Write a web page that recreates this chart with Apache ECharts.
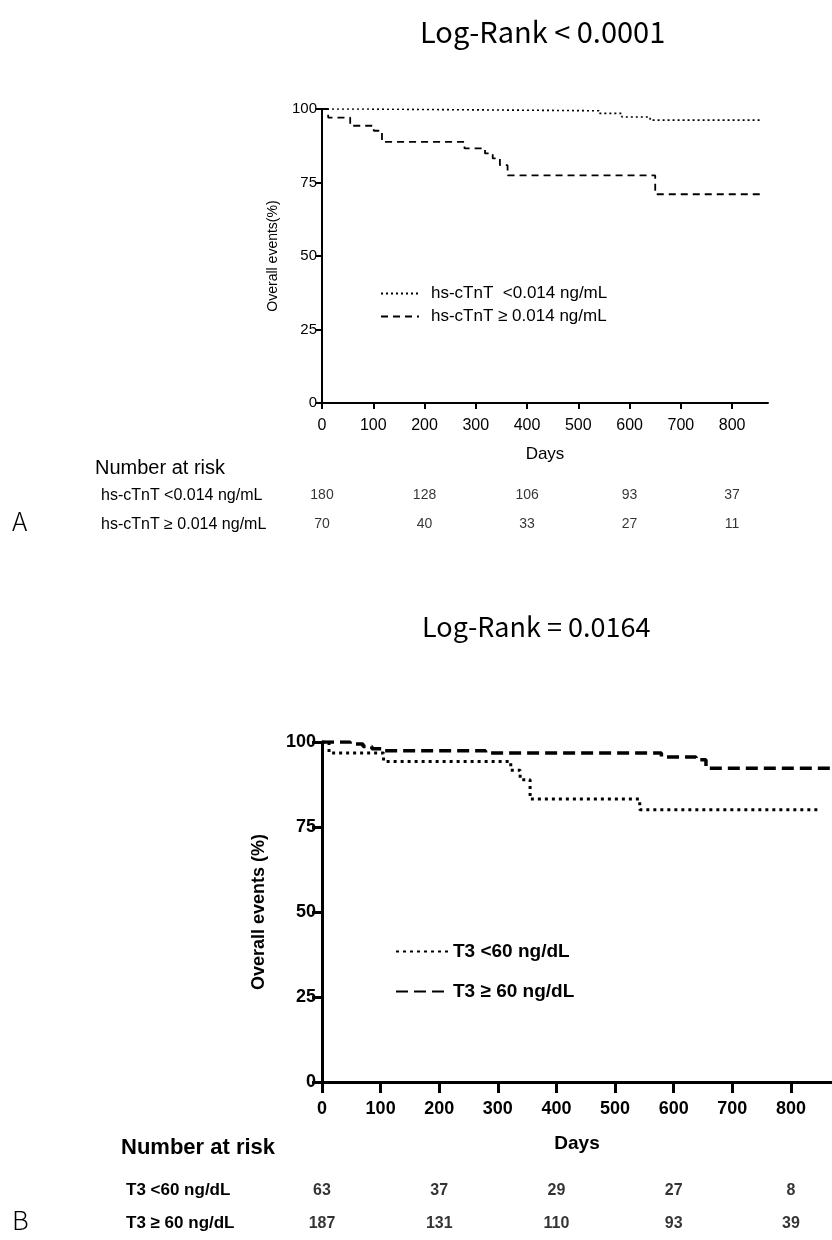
<!DOCTYPE html>
<html>
<head>
<meta charset="utf-8">
<script src="https://cdn.jsdelivr.net/npm/echarts@6/dist/echarts.min.js"></script>
<style>
html,body{margin:0;padding:0;background:#fff;}
#chart{width:832px;height:1240px;}
</style>
</head>
<body>
<div id="chart"></div>
<script>
// ---- Panel A data (hs-cTnT) ----
const aLowName = 'hs-cTnT  <0.014 ng/mL';
const aHighName = 'hs-cTnT \u2265 0.014 ng/mL';
const aLowDays = [0, 75, 540, 585, 640, 858];
const aLowSurv = [100, 99.4, 98.5, 97.3, 96.2, 96.2];
const aHighDays = [0, 12, 55, 101, 117, 278, 318, 333, 347, 362, 650, 860];
const aHighSurv = [100, 97.1, 94.3, 92.6, 88.8, 86.6, 84.9, 83.2, 80.9, 77.4, 71.0, 71.0];
const aRiskRows = ['hs-cTnT <0.014 ng/mL', 'hs-cTnT \u2265 0.014 ng/mL'];
const aRiskLow = [180, 128, 106, 93, 37];
const aRiskHigh = [70, 40, 33, 27, 11];

// ---- Panel B data (T3) ----
const bLowName = 'T3 <60 ng/dL';
const bHighName = 'T3 \u2265 60 ng/dL';
const bLowDays = [0, 12, 105, 322, 338, 355, 542, 848];
const bLowSurv = [100, 96.8, 94.3, 91.7, 88.9, 83.2, 80.1, 80.1];
const bHighDays = [0, 48, 70, 85, 105, 279, 579, 638, 655, 872];
const bHighSurv = [100, 99.4, 98.7, 98.0, 97.4, 96.8, 95.6, 94.8, 92.3, 92.3];
const bRiskRows = ['T3 <60 ng/dL', 'T3 \u2265 60 ng/dL'];
const bRiskLow = [63, 37, 29, 27, 8];
const bRiskHigh = [187, 131, 110, 93, 39];

// ---- shared ----
const riskDays = [0, 200, 400, 600, 800];
const xTicks = [0, 100, 200, 300, 400, 500, 600, 700, 800];
const yTicks = [0, 25, 50, 75, 100];
const titleA = 'Log-Rank < 0.0001';
const titleB = 'Log-Rank = 0.0164';

const zip = (xs, ys) => xs.map((x, i) => [x, ys[i]]);
const riskData = (low, high) => riskDays.map((d, i) => [d, 0, low[i]]).concat(riskDays.map((d, i) => [d, 1, high[i]]));

const fA = 'Liberation Sans, Arial, sans-serif';
const fT = 'Noto Sans CJK KR, Open Sans, sans-serif';
const XMAX = 870;

const chart = echarts.init(document.getElementById('chart'), null, {renderer: 'canvas'});

function valueX(gi, lw, tickLen, fontSize, bold, margin, nameGap) {
  return {
    type: 'value', gridIndex: gi, min: 0, max: XMAX, interval: 100,
    name: 'Days', nameLocation: 'middle', nameGap: nameGap,
    nameTextStyle: {fontFamily: fA, fontSize: fontSize + 1, fontWeight: bold ? 'bold' : 'normal', color: '#000'},
    axisLine: {show: true, lineStyle: {color: '#000', width: lw}},
    axisTick: {show: true, length: tickLen, lineStyle: {color: '#000', width: lw}, customValues: xTicks},
    axisLabel: {fontFamily: fA, fontSize: fontSize, fontWeight: bold ? 'bold' : 'normal', color: '#000', margin: margin, customValues: xTicks},
    splitLine: {show: false}
  };
}
function valueY(gi, lw, tickLen, fontSize, bold, margin, name, nameGap, nameSize) {
  return {
    type: 'value', gridIndex: gi, min: 0, max: 100, interval: 25,
    name: name, nameLocation: 'middle', nameGap: nameGap, nameRotate: 90,
    nameTextStyle: {fontFamily: fA, fontSize: nameSize, fontWeight: bold ? 'bold' : 'normal', color: '#000'},
    axisLine: {show: true, lineStyle: {color: '#000', width: lw}},
    axisTick: {show: true, length: tickLen, lineStyle: {color: '#000', width: lw}, customValues: yTicks},
    axisLabel: {fontFamily: fA, fontSize: fontSize, fontWeight: bold ? 'bold' : 'normal', color: '#000', margin: margin, customValues: yTicks},
    splitLine: {show: false}
  };
}
function hiddenX(gi) {
  return {type: 'value', gridIndex: gi, min: 0, max: XMAX, show: false};
}
function riskY(gi, rows, margin, fontSize, bold) {
  return {
    type: 'category', gridIndex: gi, data: rows, inverse: true,
    axisLine: {show: false}, axisTick: {show: false}, splitLine: {show: false},
    axisLabel: {show: true, align: 'left', margin: margin, fontFamily: fA, fontSize: fontSize, fontWeight: bold ? 'bold' : 'normal', color: '#000'}
  };
}
function kmLine(name, xi, yi, days, surv, width, dash) {
  return {
    name: name, type: 'line', xAxisIndex: xi, yAxisIndex: yi, step: 'end',
    data: zip(days, surv), symbol: 'none', legendIcon: 'none', silent: true, animation: false,
    lineStyle: {color: '#000', width: width, type: dash}, itemStyle: {color: '#000'}
  };
}
function riskSeries(xi, yi, low, high, fontSize, bold) {
  return {
    type: 'scatter', xAxisIndex: xi, yAxisIndex: yi, symbolSize: 1, animation: false,
    itemStyle: {color: 'rgba(0,0,0,0)'},
    data: riskData(low, high),
    label: {show: true, position: 'inside', formatter: p => String(p.value[2]),
      fontFamily: fA, fontSize: fontSize, fontWeight: bold ? 'bold' : 'normal', color: '#000'}
  };
}

const option = {
  backgroundColor: '#fff',
  animation: false,
  grid: [
    {left: 322, top: 109, width: 446, height: 294},
    {left: 322, top: 742, width: 511, height: 340},
    {left: 322, top: 481, width: 446, height: 58},
    {left: 322, top: 1174, width: 511, height: 72}
  ],
  xAxis: [
    valueX(0, 2, 6, 16, false, 15, 43),
    valueX(1, 3, 11, 18, true, 18, 52),
    hiddenX(2),
    hiddenX(3)
  ],
  yAxis: [
    valueY(0, 2, 6, 15, false, 5, 'Overall events(%)', 42, 14),
    valueY(1, 3, 10, 18, true, 6, 'Overall events (%)', 54, 18),
    riskY(2, aRiskRows, 221, 16, false),
    riskY(3, bRiskRows, 196, 17, true)
  ],
  legend: [
    {data: [aLowName, aHighName], orient: 'vertical', left: 380, top: 285, padding: 0, itemWidth: 38, itemHeight: 14, itemGap: 6,
      itemStyle: {opacity: 0},
      textStyle: {fontFamily: fA, fontSize: 17, color: '#000', padding: [0, 0, 0, 7]}},
    {data: [bLowName, bHighName], orient: 'vertical', left: 395, top: 942, padding: 0, itemWidth: 52, itemHeight: 16, itemGap: 21,
      itemStyle: {opacity: 0},
      textStyle: {fontFamily: fA, fontSize: 19, fontWeight: 'bold', color: '#000'}}
  ],
  series: [
    kmLine(aLowName, 0, 0, aLowDays, aLowSurv, 1.6, [2, 3]),
    kmLine(aHighName, 0, 0, aHighDays, aHighSurv, 1.8, [7, 5]),
    kmLine(bLowName, 1, 1, bLowDays, bLowSurv, 3, [3, 4]),
    kmLine(bHighName, 1, 1, bHighDays, bHighSurv, 3.5, [12, 6]),
    riskSeries(2, 2, aRiskLow, aRiskHigh, 14, false),
    riskSeries(3, 3, bRiskLow, bRiskHigh, 16, true)
  ],
  graphic: [
    {type: 'text', left: 420, top: 17, style: {text: titleA, fontFamily: fT, fontSize: 29, fill: '#000'}},
    {type: 'text', left: 422, top: 613, style: {text: titleB, fontFamily: fT, fontSize: 27, fill: '#000'}},
    {type: 'text', left: 95, top: 458, style: {text: 'Number at risk', fontFamily: fA, fontSize: 20, fill: '#000'}},
    {type: 'text', left: 121, top: 1137, style: {text: 'Number at risk', fontFamily: fA, fontSize: 22, fontWeight: 'bold', fill: '#000'}},
    {type: 'text', left: 12, top: 508, style: {text: 'A', fontFamily: fT, fontSize: 26, fontWeight: 300, fill: '#000'}},
    {type: 'text', left: 12, top: 1207, style: {text: 'B', fontFamily: fT, fontSize: 26, fontWeight: 300, fill: '#000'}}
  ]
};
chart.setOption(option);
</script>
</body>
</html>
